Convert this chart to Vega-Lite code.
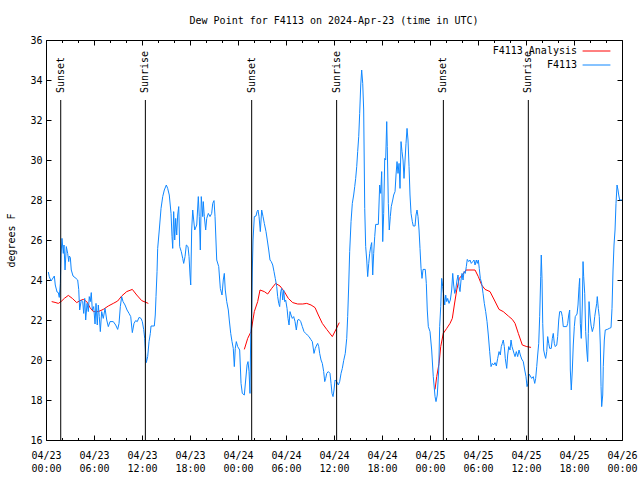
{
  "$schema": "https://vega.github.io/schema/vega-lite/v6.json",
  "width": 576,
  "height": 400,
  "autosize": "none",
  "padding": {"left": 46, "top": 40, "right": 18, "bottom": 40},
  "background": "white",
  "title": {
    "text": "Dew Point for F4113 on 2024-Apr-23 (time in UTC)",
    "font": "DejaVu Sans Mono",
    "fontSize": 10,
    "fontWeight": "normal",
    "color": "black",
    "anchor": "middle",
    "frame": "group",
    "offset": 9
  },
  "config": {
    "view": {"stroke": "black", "strokeWidth": 1},
    "axis": {
      "grid": false,
      "domain": false,
      "tickColor": "black",
      "tickWidth": 1,
      "labelColor": "black",
      "labelFont": "DejaVu Sans Mono",
      "labelFontSize": 10,
      "titleFont": "DejaVu Sans Mono",
      "titleFontSize": 10,
      "titleFontWeight": "normal",
      "titleColor": "black"
    },
    "legend": {
      "labelFont": "DejaVu Sans Mono",
      "labelFontSize": 10,
      "labelColor": "black"
    }
  },
  "datasets": {
    "obs": [
      {"h":0.29,"v":24.4},{"h":0.41,"v":24.17},{"h":0.63,"v":23.95},{"h":0.88,"v":24.1},{"h":1.04,"v":24.2},{"h":1.16,"v":23.75},{"h":1.38,"v":23.4},{"h":1.54,"v":23.37},{"h":1.66,"v":23.13},{"h":1.79,"v":23.83},{"h":1.88,"v":25.25},{"h":2.0,"v":26.08},{"h":2.16,"v":25.33},{"h":2.25,"v":25.75},{"h":2.38,"v":24.5},{"h":2.54,"v":25.67},{"h":2.71,"v":25.33},{"h":2.84,"v":24.92},{"h":2.91,"v":25.2},{"h":3.04,"v":25.13},{"h":3.16,"v":24.5},{"h":3.38,"v":24.2},{"h":3.75,"v":24.08},{"h":3.96,"v":24.0},{"h":4.09,"v":23.53},{"h":4.21,"v":22.5},{"h":4.41,"v":23.0},{"h":4.59,"v":22.92},{"h":4.71,"v":22.33},{"h":4.84,"v":23.08},{"h":4.96,"v":22.0},{"h":5.13,"v":22.83},{"h":5.29,"v":22.42},{"h":5.41,"v":23.17},{"h":5.54,"v":22.92},{"h":5.66,"v":23.37},{"h":5.79,"v":22.5},{"h":5.96,"v":22.67},{"h":6.13,"v":21.8},{"h":6.25,"v":22.83},{"h":6.41,"v":21.75},{"h":6.54,"v":22.75},{"h":6.66,"v":22.17},{"h":6.79,"v":21.42},{"h":6.96,"v":22.42},{"h":7.16,"v":22.08},{"h":7.38,"v":22.58},{"h":7.59,"v":22.0},{"h":7.79,"v":21.67},{"h":8.0,"v":21.92},{"h":8.41,"v":21.92},{"h":8.71,"v":21.75},{"h":8.96,"v":21.53},{"h":9.13,"v":21.83},{"h":9.29,"v":22.67},{"h":9.46,"v":23.17},{"h":9.63,"v":22.92},{"h":9.88,"v":22.75},{"h":10.13,"v":22.5},{"h":10.38,"v":22.33},{"h":10.59,"v":22.17},{"h":10.79,"v":21.37},{"h":11.0,"v":21.83},{"h":11.21,"v":21.97},{"h":11.41,"v":21.92},{"h":11.63,"v":22.13},{"h":11.88,"v":22.08},{"h":12.04,"v":21.92},{"h":12.21,"v":21.53},{"h":12.34,"v":21.08},{"h":12.46,"v":20.25},{"h":12.54,"v":19.87},{"h":12.71,"v":20.17},{"h":12.88,"v":20.92},{"h":13.04,"v":21.33},{"h":13.13,"v":21.7},{"h":13.54,"v":21.7},{"h":13.66,"v":22.25},{"h":13.75,"v":23.17},{"h":13.88,"v":24.42},{"h":13.96,"v":25.58},{"h":14.16,"v":26.5},{"h":14.38,"v":27.58},{"h":14.59,"v":28.17},{"h":14.79,"v":28.5},{"h":15.04,"v":28.75},{"h":15.21,"v":28.58},{"h":15.41,"v":28.25},{"h":15.63,"v":27.33},{"h":15.75,"v":26.17},{"h":15.84,"v":25.58},{"h":15.96,"v":27.42},{"h":16.09,"v":26.0},{"h":16.21,"v":27.08},{"h":16.34,"v":26.25},{"h":16.46,"v":27.25},{"h":16.59,"v":27.67},{"h":16.71,"v":25.67},{"h":16.91,"v":25.42},{"h":17.09,"v":25.08},{"h":17.21,"v":24.83},{"h":17.38,"v":25.17},{"h":17.54,"v":25.75},{"h":17.75,"v":25.67},{"h":17.88,"v":25.17},{"h":18.0,"v":24.25},{"h":18.09,"v":23.75},{"h":18.21,"v":26.5},{"h":18.34,"v":27.5},{"h":18.46,"v":27.0},{"h":18.59,"v":26.5},{"h":18.84,"v":26.75},{"h":19.04,"v":28.17},{"h":19.16,"v":27.17},{"h":19.29,"v":25.5},{"h":19.41,"v":28.17},{"h":19.59,"v":27.17},{"h":19.66,"v":27.92},{"h":19.79,"v":27.17},{"h":19.96,"v":26.5},{"h":20.09,"v":27.08},{"h":20.29,"v":27.33},{"h":20.5,"v":27.17},{"h":20.71,"v":27.33},{"h":20.84,"v":27.83},{"h":21.0,"v":27.97},{"h":21.13,"v":27.17},{"h":21.34,"v":25.0},{"h":21.59,"v":24.67},{"h":21.79,"v":23.58},{"h":22.0,"v":23.25},{"h":22.16,"v":24.0},{"h":22.29,"v":24.33},{"h":22.41,"v":23.5},{"h":22.59,"v":22.92},{"h":22.79,"v":22.5},{"h":22.91,"v":22.0},{"h":23.09,"v":21.33},{"h":23.25,"v":20.92},{"h":23.41,"v":20.58},{"h":23.54,"v":19.67},{"h":23.66,"v":20.58},{"h":23.79,"v":20.92},{"h":23.96,"v":20.67},{"h":24.21,"v":20.5},{"h":24.38,"v":18.83},{"h":24.54,"v":18.33},{"h":24.79,"v":18.25},{"h":24.96,"v":19.0},{"h":25.13,"v":19.75},{"h":25.25,"v":19.92},{"h":25.38,"v":19.42},{"h":25.5,"v":18.33},{"h":25.59,"v":21.33},{"h":25.71,"v":22.33},{"h":25.79,"v":24.5},{"h":25.88,"v":26.0},{"h":26.04,"v":27.17},{"h":26.25,"v":27.2},{"h":26.38,"v":27.42},{"h":26.5,"v":27.5},{"h":26.63,"v":27.17},{"h":26.79,"v":26.42},{"h":26.96,"v":27.5},{"h":27.13,"v":27.17},{"h":27.29,"v":26.83},{"h":27.5,"v":26.42},{"h":27.66,"v":26.0},{"h":27.84,"v":25.5},{"h":28.0,"v":25.0},{"h":28.16,"v":24.92},{"h":28.34,"v":24.75},{"h":28.5,"v":24.42},{"h":28.66,"v":24.08},{"h":28.84,"v":23.67},{"h":28.96,"v":23.17},{"h":29.09,"v":22.83},{"h":29.21,"v":22.67},{"h":29.34,"v":23.42},{"h":29.46,"v":23.58},{"h":29.59,"v":23.0},{"h":29.71,"v":23.5},{"h":29.84,"v":22.92},{"h":29.96,"v":23.0},{"h":30.13,"v":22.58},{"h":30.25,"v":22.08},{"h":30.38,"v":21.75},{"h":30.5,"v":22.42},{"h":30.63,"v":22.25},{"h":30.79,"v":22.08},{"h":30.96,"v":22.17},{"h":31.13,"v":21.92},{"h":31.29,"v":21.5},{"h":31.46,"v":22.0},{"h":31.63,"v":22.03},{"h":31.84,"v":21.92},{"h":32.04,"v":21.67},{"h":32.25,"v":21.42},{"h":32.46,"v":21.33},{"h":32.66,"v":21.25},{"h":32.88,"v":21.17},{"h":33.09,"v":21.03},{"h":33.29,"v":20.92},{"h":33.5,"v":20.33},{"h":33.66,"v":20.58},{"h":33.84,"v":20.75},{"h":33.96,"v":20.83},{"h":34.09,"v":20.67},{"h":34.21,"v":20.33},{"h":34.38,"v":20.0},{"h":34.54,"v":19.83},{"h":34.71,"v":19.42},{"h":34.84,"v":18.92},{"h":34.96,"v":19.08},{"h":35.09,"v":19.33},{"h":35.29,"v":19.42},{"h":35.5,"v":19.33},{"h":35.63,"v":18.83},{"h":35.75,"v":18.33},{"h":35.88,"v":18.17},{"h":36.0,"v":18.5},{"h":36.13,"v":19.0},{"h":36.34,"v":18.92},{"h":36.54,"v":18.75},{"h":36.71,"v":18.92},{"h":36.88,"v":19.33},{"h":37.04,"v":19.58},{"h":37.21,"v":19.97},{"h":37.41,"v":20.33},{"h":37.59,"v":21.08},{"h":37.71,"v":22.17},{"h":37.84,"v":23.75},{"h":37.96,"v":25.42},{"h":38.13,"v":26.92},{"h":38.29,"v":27.83},{"h":38.46,"v":28.25},{"h":38.59,"v":28.67},{"h":38.71,"v":29.08},{"h":38.84,"v":29.67},{"h":38.96,"v":30.42},{"h":39.09,"v":31.17},{"h":39.21,"v":32.33},{"h":39.34,"v":33.75},{"h":39.46,"v":34.5},{"h":39.59,"v":33.83},{"h":39.71,"v":32.5},{"h":39.84,"v":27.58},{"h":39.96,"v":25.67},{"h":40.09,"v":25.0},{"h":40.21,"v":24.17},{"h":40.34,"v":24.83},{"h":40.46,"v":25.33},{"h":40.59,"v":25.67},{"h":40.71,"v":25.87},{"h":40.84,"v":24.25},{"h":40.96,"v":25.33},{"h":41.09,"v":26.17},{"h":41.21,"v":26.78},{"h":41.54,"v":26.78},{"h":41.71,"v":28.75},{"h":41.84,"v":28.33},{"h":41.96,"v":29.42},{"h":42.09,"v":25.92},{"h":42.21,"v":27.33},{"h":42.34,"v":30.08},{"h":42.46,"v":30.0},{"h":42.59,"v":31.92},{"h":42.66,"v":30.67},{"h":42.79,"v":27.83},{"h":42.91,"v":26.5},{"h":43.04,"v":27.17},{"h":43.16,"v":27.67},{"h":43.34,"v":28.0},{"h":43.46,"v":28.25},{"h":43.63,"v":28.42},{"h":43.75,"v":29.25},{"h":43.88,"v":29.92},{"h":44.0,"v":29.33},{"h":44.13,"v":29.83},{"h":44.25,"v":28.58},{"h":44.38,"v":30.92},{"h":44.5,"v":30.42},{"h":44.63,"v":30.0},{"h":44.75,"v":29.08},{"h":44.88,"v":30.0},{"h":45.0,"v":30.83},{"h":45.13,"v":31.58},{"h":45.25,"v":31.0},{"h":45.38,"v":29.67},{"h":45.5,"v":28.25},{"h":45.63,"v":27.33},{"h":45.79,"v":26.92},{"h":45.91,"v":26.7},{"h":46.13,"v":26.7},{"h":46.25,"v":27.25},{"h":46.38,"v":27.5},{"h":46.5,"v":27.17},{"h":46.63,"v":26.5},{"h":46.75,"v":25.58},{"h":46.88,"v":24.58},{"h":47.0,"v":24.08},{"h":47.13,"v":24.53},{"h":47.41,"v":24.53},{"h":47.54,"v":23.83},{"h":47.66,"v":22.5},{"h":47.79,"v":21.67},{"h":48.0,"v":21.42},{"h":48.21,"v":20.5},{"h":48.41,"v":19.17},{"h":48.63,"v":18.17},{"h":48.75,"v":17.92},{"h":48.91,"v":18.25},{"h":49.09,"v":19.5},{"h":49.21,"v":21.67},{"h":49.34,"v":22.67},{"h":49.46,"v":24.08},{"h":49.59,"v":23.67},{"h":49.71,"v":23.25},{"h":49.84,"v":22.75},{"h":49.96,"v":23.25},{"h":50.09,"v":22.92},{"h":50.21,"v":23.08},{"h":50.38,"v":22.83},{"h":50.54,"v":23.0},{"h":50.71,"v":23.5},{"h":50.84,"v":24.33},{"h":50.96,"v":23.75},{"h":51.09,"v":23.33},{"h":51.21,"v":23.5},{"h":51.38,"v":24.0},{"h":51.5,"v":24.25},{"h":51.63,"v":23.67},{"h":51.75,"v":23.42},{"h":51.88,"v":24.0},{"h":52.0,"v":24.33},{"h":52.13,"v":24.0},{"h":52.25,"v":24.42},{"h":52.41,"v":24.33},{"h":52.54,"v":24.67},{"h":52.66,"v":25.03},{"h":52.84,"v":24.92},{"h":53.0,"v":25.0},{"h":53.16,"v":24.83},{"h":53.34,"v":24.92},{"h":53.5,"v":25.0},{"h":53.63,"v":24.75},{"h":53.79,"v":25.0},{"h":53.91,"v":24.83},{"h":54.04,"v":25.0},{"h":54.16,"v":24.58},{"h":54.29,"v":24.08},{"h":54.46,"v":23.83},{"h":54.63,"v":23.33},{"h":54.79,"v":22.83},{"h":54.96,"v":22.42},{"h":55.13,"v":21.92},{"h":55.29,"v":21.25},{"h":55.46,"v":20.42},{"h":55.63,"v":19.67},{"h":55.79,"v":19.83},{"h":55.96,"v":19.75},{"h":56.13,"v":19.87},{"h":56.29,"v":19.7},{"h":56.46,"v":20.08},{"h":56.63,"v":20.42},{"h":56.79,"v":20.25},{"h":56.91,"v":20.67},{"h":57.04,"v":20.83},{"h":57.16,"v":21.0},{"h":57.29,"v":20.67},{"h":57.41,"v":20.08},{"h":57.59,"v":19.58},{"h":57.71,"v":20.25},{"h":57.84,"v":20.67},{"h":58.0,"v":20.5},{"h":58.13,"v":21.0},{"h":58.25,"v":20.67},{"h":58.38,"v":20.5},{"h":58.5,"v":20.33},{"h":58.63,"v":20.17},{"h":58.79,"v":20.42},{"h":58.96,"v":20.17},{"h":59.13,"v":20.5},{"h":59.29,"v":20.25},{"h":59.46,"v":20.05},{"h":59.66,"v":19.92},{"h":59.84,"v":19.5},{"h":60.0,"v":19.17},{"h":60.13,"v":18.67},{"h":60.25,"v":18.83},{"h":60.38,"v":19.3},{"h":60.54,"v":19.2},{"h":60.71,"v":19.08},{"h":60.91,"v":19.17},{"h":61.09,"v":18.83},{"h":61.21,"v":19.08},{"h":61.34,"v":19.67},{"h":61.46,"v":20.25},{"h":61.59,"v":20.83},{"h":61.71,"v":22.17},{"h":61.84,"v":24.17},{"h":61.91,"v":25.25},{"h":62.0,"v":24.08},{"h":62.09,"v":21.83},{"h":62.21,"v":20.5},{"h":62.34,"v":20.25},{"h":62.46,"v":20.08},{"h":62.59,"v":20.42},{"h":62.71,"v":21.17},{"h":62.84,"v":20.83},{"h":62.96,"v":20.58},{"h":63.16,"v":20.58},{"h":63.29,"v":21.08},{"h":63.41,"v":21.33},{"h":63.54,"v":20.83},{"h":63.66,"v":20.67},{"h":63.84,"v":20.75},{"h":63.96,"v":21.17},{"h":64.09,"v":22.0},{"h":64.21,"v":22.42},{"h":64.41,"v":22.42},{"h":64.54,"v":22.17},{"h":64.66,"v":21.67},{"h":65.09,"v":21.67},{"h":65.21,"v":21.83},{"h":65.34,"v":22.25},{"h":65.46,"v":22.5},{"h":65.54,"v":19.5},{"h":65.66,"v":18.5},{"h":65.79,"v":19.5},{"h":65.91,"v":20.75},{"h":66.04,"v":21.67},{"h":66.16,"v":22.17},{"h":66.38,"v":22.3},{"h":66.5,"v":22.75},{"h":66.63,"v":23.67},{"h":66.71,"v":24.08},{"h":66.79,"v":21.83},{"h":66.91,"v":21.08},{"h":67.04,"v":22.75},{"h":67.13,"v":24.92},{"h":67.21,"v":24.17},{"h":67.34,"v":23.33},{"h":67.46,"v":21.42},{"h":67.59,"v":20.5},{"h":67.71,"v":19.92},{"h":67.79,"v":21.33},{"h":67.88,"v":22.92},{"h":68.0,"v":22.25},{"h":68.13,"v":21.75},{"h":68.29,"v":21.42},{"h":68.46,"v":21.67},{"h":68.59,"v":22.17},{"h":68.71,"v":22.5},{"h":68.84,"v":22.83},{"h":68.91,"v":23.17},{"h":69.04,"v":22.58},{"h":69.16,"v":22.17},{"h":69.29,"v":20.75},{"h":69.38,"v":18.67},{"h":69.46,"v":17.67},{"h":69.59,"v":18.25},{"h":69.66,"v":19.67},{"h":69.79,"v":21.0},{"h":69.91,"v":21.5},{"h":70.16,"v":21.53},{"h":70.41,"v":21.58},{"h":70.63,"v":21.62},{"h":70.75,"v":22.58},{"h":70.88,"v":24.5},{"h":71.0,"v":25.75},{"h":71.13,"v":26.5},{"h":71.25,"v":27.83},{"h":71.38,"v":28.75},{"h":71.5,"v":28.5},{"h":71.59,"v":28.25},{"h":71.71,"v":28.0},{"h":72.0,"v":28.0}
    ],
    "ana": [
      {"h":0.71,"v":22.92,"seg":1},{"h":1.13,"v":22.88,"seg":1},{"h":1.54,"v":22.83,"seg":1},{"h":1.88,"v":22.92,"seg":1},{"h":2.29,"v":23.08,"seg":1},{"h":2.79,"v":23.23,"seg":1},{"h":3.29,"v":23.08,"seg":1},{"h":3.84,"v":22.87,"seg":1},{"h":4.25,"v":22.97,"seg":1},{"h":4.66,"v":23.03,"seg":1},{"h":5.09,"v":22.92,"seg":1},{"h":5.5,"v":22.62,"seg":1},{"h":5.91,"v":22.42,"seg":1},{"h":6.54,"v":22.42,"seg":1},{"h":7.16,"v":22.53,"seg":1},{"h":7.79,"v":22.7,"seg":1},{"h":8.41,"v":22.83,"seg":1},{"h":8.96,"v":22.95,"seg":1},{"h":9.46,"v":23.2,"seg":1},{"h":10.09,"v":23.42,"seg":1},{"h":10.79,"v":23.53,"seg":1},{"h":11.34,"v":23.25,"seg":1},{"h":11.96,"v":22.97,"seg":1},{"h":12.79,"v":22.83,"seg":1},
      {"h":24.79,"v":20.53,"seg":2},{"h":25.21,"v":21.08,"seg":2},{"h":25.63,"v":21.42,"seg":2},{"h":26.04,"v":22.42,"seg":2},{"h":26.46,"v":22.92,"seg":2},{"h":26.75,"v":23.5,"seg":2},{"h":27.29,"v":23.42,"seg":2},{"h":27.71,"v":23.3,"seg":2},{"h":28.21,"v":23.58,"seg":2},{"h":28.71,"v":23.83,"seg":2},{"h":29.25,"v":23.7,"seg":2},{"h":29.79,"v":23.42,"seg":2},{"h":30.29,"v":23.08,"seg":2},{"h":30.84,"v":22.87,"seg":2},{"h":31.46,"v":22.8,"seg":2},{"h":32.09,"v":22.8,"seg":2},{"h":32.59,"v":22.83,"seg":2},{"h":33.13,"v":22.75,"seg":2},{"h":33.63,"v":22.62,"seg":2},{"h":34.04,"v":22.25,"seg":2},{"h":34.54,"v":21.83,"seg":2},{"h":35.09,"v":21.53,"seg":2},{"h":35.79,"v":21.17,"seg":2},{"h":36.21,"v":21.5,"seg":2},{"h":36.66,"v":21.87,"seg":2},
      {"h":48.63,"v":18.53,"seg":3},{"h":48.84,"v":19.17,"seg":3},{"h":49.13,"v":19.83,"seg":3},{"h":49.34,"v":20.67,"seg":3},{"h":49.66,"v":21.33,"seg":3},{"h":50.09,"v":21.58,"seg":3},{"h":50.5,"v":21.83,"seg":3},{"h":50.79,"v":22.08,"seg":3},{"h":51.04,"v":22.75,"seg":3},{"h":51.34,"v":23.5,"seg":3},{"h":51.66,"v":24.08,"seg":3},{"h":52.09,"v":24.28,"seg":3},{"h":52.5,"v":24.5,"seg":3},{"h":53.63,"v":24.5,"seg":3},{"h":54.04,"v":24.17,"seg":3},{"h":54.46,"v":23.75,"seg":3},{"h":54.88,"v":23.53,"seg":3},{"h":55.5,"v":23.42,"seg":3},{"h":56.04,"v":23.0,"seg":3},{"h":56.63,"v":22.53,"seg":3},{"h":57.16,"v":22.42,"seg":3},{"h":57.79,"v":22.2,"seg":3},{"h":58.29,"v":22.03,"seg":3},{"h":58.63,"v":21.83,"seg":3},{"h":59.04,"v":21.33,"seg":3},{"h":59.54,"v":20.75,"seg":3},{"h":60.09,"v":20.67,"seg":3},{"h":60.63,"v":20.63,"seg":3}
    ],
    "sun": [
      {"h":1.84,"label":"Sunset"},{"h":12.42,"label":"Sunrise"},{"h":25.71,"label":"Sunset"},{"h":36.33,"label":"Sunrise"},{"h":49.67,"label":"Sunset"},{"h":60.29,"label":"Sunrise"}
    ]
  },
  "layer": [
    {
      "data": {"name": "ana"},
      "transform": [{"calculate": "'F4113 Analysis'", "as": "series"}],
      "mark": {"type": "line", "strokeWidth": 1, "interpolate": "linear"},
      "encoding": {
        "x": {
          "field": "h", "type": "quantitative",
          "scale": {"domain": [0, 72], "nice": false, "zero": false},
          "axis": {
            "orient": "bottom",
            "title": null,
            "values": [0,2,4,6,8,10,12,14,16,18,20,22,24,26,28,30,32,34,36,38,40,42,44,46,48,50,52,54,56,58,60,62,64,66,68,70,72],
            "labelExpr": "datum.value % 6 === 0 ? [utcFormat(utc(2024,3,23) + datum.value*3600000, '%m/%d'), utcFormat(utc(2024,3,23) + datum.value*3600000, '%H:%M')] : ''",
            "tickSize": {"condition": {"test": "datum.value % 6 === 0", "value": -5}, "value": -2.5},
            "labelPadding": 15,
            "labelLineHeight": 13,
            "labelFlush": false,
            "labelOverlap": false,
            "labelBaseline": "top"
          }
        },
        "y": {
          "field": "v", "type": "quantitative",
          "scale": {"domain": [16, 36], "nice": false, "zero": false},
          "axis": {
            "orient": "left",
            "title": "degrees F",
            "titlePadding": 13,
            "values": [16,18,20,22,24,26,28,30,32,34,36],
            "tickSize": -5,
            "labelPadding": 9,
            "labelFlush": false,
            "labelOverlap": false
          }
        },
        "detail": {"field": "seg"},
        "color": {
          "field": "series", "type": "nominal",
          "scale": {"domain": ["F4113 Analysis", "F4113"], "range": ["#ff0000", "#0f87ff"]},
          "legend": {
            "title": null,
            "orient": "none",
            "legendX": 544,
            "legendY": 4.5,
            "padding": 0,
            "symbolType": "M-2.5,0H2.5",
            "symbolSize": 124,
            "symbolStrokeWidth": 1,
            "labelAlign": "right",
            "labelOffset": -26,
            "rowPadding": 2
          }
        }
      }
    },
    {
      "data": {"name": "obs"},
      "transform": [{"calculate": "'F4113'", "as": "series"}],
      "mark": {"type": "line", "strokeWidth": 1, "interpolate": "linear"},
      "encoding": {
        "x": {
          "field": "h", "type": "quantitative",
          "axis": {
            "orient": "top",
            "title": null,
            "labels": false,
            "values": [0,2,4,6,8,10,12,14,16,18,20,22,24,26,28,30,32,34,36,38,40,42,44,46,48,50,52,54,56,58,60,62,64,66,68,70,72],
            "tickSize": {"condition": {"test": "datum.value % 6 === 0", "value": -5}, "value": -2.5}
          }
        },
        "y": {
          "field": "v", "type": "quantitative",
          "axis": {
            "orient": "right",
            "title": null,
            "labels": false,
            "values": [16,18,20,22,24,26,28,30,32,34,36],
            "tickSize": -5
          }
        },
        "color": {"field": "series", "type": "nominal"}
      }
    },
    {
      "data": {"name": "sun"},
      "mark": {"type": "rule", "color": "black", "strokeWidth": 1},
      "encoding": {
        "x": {"field": "h", "type": "quantitative", "axis": null},
        "y": {"datum": 33, "type": "quantitative", "axis": null},
        "y2": {"datum": 16}
      }
    },
    {
      "data": {"name": "sun"},
      "mark": {"type": "text", "angle": 270, "align": "left", "baseline": "middle", "dx": 7, "font": "DejaVu Sans Mono", "fontSize": 10, "color": "black"},
      "encoding": {
        "x": {"field": "h", "type": "quantitative", "axis": null},
        "y": {"datum": 33, "type": "quantitative", "axis": null},
        "text": {"field": "label"}
      }
    }
  ],
  "resolve": {"axis": {"x": "independent", "y": "independent"}}
}
